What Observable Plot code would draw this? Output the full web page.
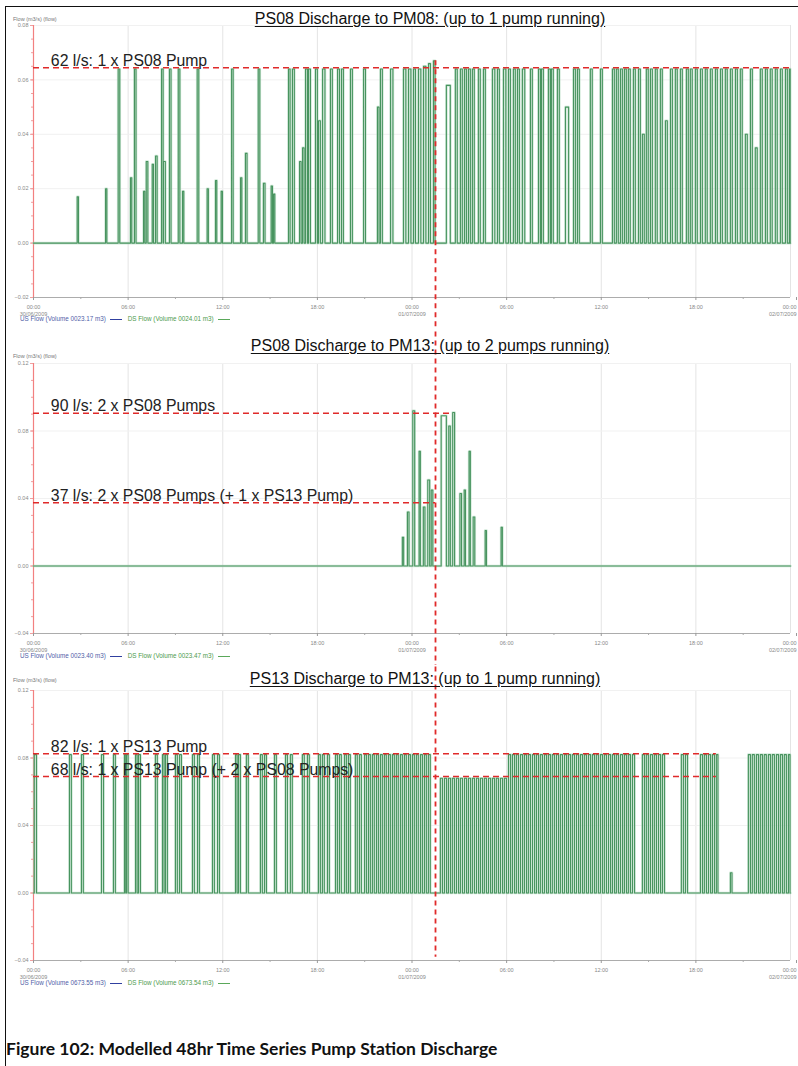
<!DOCTYPE html>
<html>
<head>
<meta charset="utf-8">
<script src="https://cdn.jsdelivr.net/npm/d3@7"></script>
<script src="https://cdn.jsdelivr.net/npm/@observablehq/plot@0.6"></script>
<style>
  body { margin: 0; background: #fff; }
  #root { position: relative; width: 798px; height: 1066px; background: #fff; overflow: hidden; font-family: "Liberation Sans", Arial, sans-serif; }
  .frame { position: absolute; left: 5px; top: 6px; width: 820px; height: 1100px; border-left: 1.5px solid #111; border-top: 1.5px solid #111; }
  .title { position: absolute; transform: translateX(-50%); white-space: nowrap; font-size: 16px; color: #111; text-decoration: underline; text-underline-offset: 2px; }
  .ylab { position: absolute; left: 13px; font-size: 5.5px; color: #777; white-space: nowrap; }
  .legend { position: absolute; left: 20px; font-size: 6.3px; white-space: nowrap; }
  .legend span.sw { display: inline-block; width: 12px; height: 0; border-top: 1px solid; vertical-align: middle; margin: 0 6px 0 4px; }
  .caption { position: absolute; left: 6px; top: 1038px; font-family: Lato, "Open Sans", sans-serif; font-weight: 700; font-size: 17.5px; color: #111; white-space: nowrap; }
  svg.panel { position: absolute; left: 0; }
</style>
</head>
<body>
<div id="root">
  <div class="frame"></div>
</div>
<script>
// ---------- data ----------
const xTickHours = [0, 6, 12, 18, 24, 30, 36, 42, 48];
const xTickLabels = ["00:00\n30/06/2009", "06:00", "12:00", "18:00", "00:00\n01/07/2009", "06:00", "12:00", "18:00", "00:00\n02/07/2009"];
const xMinorHours = [3, 9, 15, 21, 27, 33, 39, 45];

const panelTitles = [
  "PS08 Discharge to PM08: (up to 1 pump running)",
  "PS08 Discharge to PM13: (up to 2 pumps running)",
  "PS13 Discharge to PM13: (up to 1 pump running)"
];
const legendUS = ["US Flow (Volume 0023.17 m3)", "US Flow (Volume 0023.40 m3)", "US Flow (Volume 0673.55 m3)"];
const legendDS = ["DS Flow (Volume 0024.01 m3)", "DS Flow (Volume 0023.47 m3)", "DS Flow (Volume 0673.54 m3)"];
const yAxisLabel = "Flow (m3/s) (flow)";

const yTicks1 = [-0.02, 0, 0.02, 0.04, 0.06, 0.08];
const yTicks2 = [-0.04, 0, 0.04, 0.08, 0.12];
const yTicks3 = [-0.04, 0, 0.04, 0.08, 0.12];

// reference levels (value, end hour, label)
const refs1 = [{v: 0.0645, end: 48, label: "62 l/s: 1 x PS08 Pump"}];
const refs2 = [
  {v: 0.0905, end: 26.63, label: "90 l/s: 2 x PS08 Pumps"},
  {v: 0.0375, end: 25.49, label: "37 l/s: 2 x PS08 Pumps (+ 1 x PS13 Pump)"}
];
const refs3 = [
  {v: 0.0825, end: 43.3, label: "82 l/s: 1 x PS13 Pump"},
  {v: 0.069, end: 43.3, label: "68 l/s: 1 x PS13 Pump (+ 2 x PS08 Pumps)"}
];
const markerHour = 25.49;

// pump pulses: [start hour, duration hours, flow m3/s]
const ps08pm08 = [
  [2.77,0.08,0.017],[4.57,0.08,0.020],[5.37,0.1,0.064],[6.15,0.08,0.024],[6.40,0.1,0.064],[6.98,0.08,0.019],
  [7.15,0.1,0.030],[7.53,0.08,0.029],[7.74,0.1,0.032],[8.12,0.1,0.064],[8.24,0.12,0.030],[8.62,0.1,0.064],
  [9.18,0.1,0.064],[9.45,0.08,0.019],[10.38,0.1,0.064],[11.01,0.08,0.020],[11.54,0.08,0.023],[11.90,0.08,0.019],
  [12.56,0.1,0.064],[13.13,0.08,0.024],[13.44,0.1,0.033],[14.25,0.1,0.064],[14.58,0.1,0.022],[15.07,0.08,0.021],
  [15.22,0.08,0.018],[16.17,0.1,0.064],[16.42,0.12,0.064],[16.87,0.1,0.030],[17.06,0.1,0.035],[17.25,0.12,0.064],
  [17.44,0.12,0.064],[17.88,0.12,0.064],[18.07,0.12,0.045],[18.33,0.15,0.064],[18.83,0.12,0.064],[19.28,0.12,0.064],
  [19.53,0.12,0.064],[20.10,0.12,0.064],[20.93,0.12,0.064],[21.81,0.1,0.050],[22.00,0.12,0.064],[22.64,0.15,0.064],
  [23.46,0.15,0.064],[23.78,0.15,0.064],[24.10,0.12,0.064],[24.41,0.15,0.064],[24.73,0.15,0.065],[25.05,0.12,0.066],
  [25.36,0.1,0.067],
  [26.18,0.25,0.058],[26.75,0.12,0.064],[27.07,0.12,0.064],[27.33,0.12,0.064],[27.58,0.12,0.064],[27.83,0.12,0.064],
  [28.21,0.12,0.064],[28.53,0.12,0.064],[29.10,0.15,0.064],[29.42,0.12,0.064],[29.80,0.15,0.064],[30.12,0.12,0.064],
  [30.43,0.12,0.064],[30.69,0.12,0.064],[31.00,0.15,0.064],[31.51,0.12,0.064],[32.02,0.12,0.064],[32.21,0.12,0.064],
  [32.65,0.12,0.064],[32.84,0.12,0.064],[33.22,0.12,0.064],[33.73,0.2,0.050],[34.24,0.12,0.064],[34.49,0.12,0.064],
  [35.31,0.12,0.064],[35.95,0.12,0.064],[36.71,0.12,0.064],[36.96,0.12,0.064],[37.22,0.12,0.064],[37.47,0.12,0.064],
  [37.72,0.12,0.064],[38.04,0.12,0.064],[38.36,0.12,0.064],[38.61,0.12,0.040],[38.86,0.12,0.064],[39.12,0.12,0.064],
  [39.43,0.12,0.064],[39.75,0.12,0.064],[40.07,0.12,0.045],[40.39,0.12,0.064],[40.70,0.12,0.064],[41.02,0.12,0.064],
  [41.40,0.12,0.064],[41.65,0.12,0.064],[41.97,0.12,0.064],[42.29,0.12,0.064],[42.60,0.12,0.064],[42.92,0.12,0.064],
  [43.24,0.12,0.064],[43.56,0.12,0.064],[43.87,0.12,0.064],[44.19,0.12,0.064],[44.51,0.12,0.064],[44.82,0.12,0.064],
  [45.14,0.12,0.040],[45.46,0.12,0.064],[45.77,0.12,0.035],[46.09,0.12,0.064],[46.41,0.12,0.064],[46.72,0.12,0.064],
  [47.04,0.12,0.064],[47.36,0.12,0.064],[47.68,0.12,0.064],[47.93,0.05,0.064]
];

const ps08pm13 = [
  [23.39,0.08,0.017],[23.71,0.1,0.032],[24.05,0.12,0.092],[24.45,0.08,0.068],[24.72,0.1,0.035],[25.00,0.12,0.051],
  [25.22,0.1,0.045],[25.85,0.33,0.089],[26.33,0.1,0.083],[26.58,0.12,0.091],[27.04,0.1,0.043],[27.31,0.08,0.045],
  [27.62,0.08,0.068],[27.88,0.1,0.029],[28.64,0.08,0.021],[29.65,0.08,0.023]
];

const ps13pm13 = [
  [0.05,0.14,0.082],[2.28,0.12,0.082],[3.04,0.12,0.082],[4.31,0.13,0.082],[5.07,0.12,0.082],[5.77,0.08,0.082],
  [5.90,0.1,0.082],[6.47,0.1,0.082],[6.66,0.12,0.082],[7.73,0.12,0.082],[8.18,0.1,0.082],[8.37,0.12,0.082],
  [9.00,0.12,0.082],[9.26,0.12,0.082],[10.08,0.12,0.082],[10.40,0.12,0.082],[11.35,0.12,0.082],[11.67,0.12,0.082],
  [12.81,0.1,0.082],[13.00,0.12,0.082],[13.50,0.12,0.082],[14.39,0.12,0.082],[14.65,0.12,0.082],[15.28,0.12,0.082],
  [15.98,0.12,0.082],[16.29,0.12,0.082],[17.05,0.12,0.082],[17.37,0.12,0.082],[18.07,0.12,0.082],[18.32,0.12,0.082],
  [18.64,0.12,0.082],[19.15,0.12,0.082],[19.40,0.12,0.082],[19.72,0.12,0.082],[19.97,0.12,0.082],[20.41,0.12,0.082],
  [20.67,0.12,0.082],[20.99,0.12,0.082],[21.24,0.12,0.082],[21.49,0.12,0.082],[21.75,0.12,0.082],[22.00,0.12,0.082],
  [22.25,0.12,0.082],[22.51,0.12,0.082],[22.76,0.12,0.082],[23.01,0.12,0.082],[23.27,0.12,0.082],[23.52,0.12,0.082],
  [23.78,0.12,0.082],[24.03,0.12,0.082],[24.28,0.12,0.082],[24.54,0.12,0.082],[24.79,0.12,0.082],[25.04,0.12,0.082],
  [25.80,0.13,0.068],[26.06,0.13,0.068],[26.31,0.13,0.068],[26.56,0.13,0.068],[26.82,0.13,0.068],[27.07,0.13,0.068],
  [27.33,0.13,0.068],[27.58,0.13,0.068],[27.83,0.13,0.068],[28.09,0.13,0.068],[28.34,0.13,0.068],[28.59,0.13,0.068],
  [28.85,0.13,0.068],[29.10,0.13,0.068],[29.35,0.13,0.068],[29.61,0.13,0.068],[29.86,0.13,0.068],
  [30.12,0.13,0.082],[30.37,0.13,0.082],[30.62,0.13,0.082],[30.88,0.13,0.082],[31.13,0.13,0.082],[31.38,0.13,0.082],
  [31.64,0.13,0.082],[31.89,0.13,0.082],[32.14,0.13,0.082],[32.40,0.13,0.082],[32.65,0.13,0.082],[32.90,0.13,0.082],
  [33.16,0.13,0.082],[33.41,0.13,0.082],[33.67,0.13,0.082],[33.92,0.13,0.082],[34.17,0.13,0.082],[34.43,0.13,0.082],
  [34.68,0.13,0.082],[34.93,0.13,0.082],[35.19,0.13,0.082],[35.44,0.13,0.082],[35.69,0.13,0.082],[35.95,0.13,0.082],
  [36.20,0.13,0.082],[36.46,0.13,0.082],[36.71,0.13,0.082],[36.96,0.13,0.082],[37.22,0.13,0.082],[37.47,0.13,0.082],
  [37.72,0.13,0.082],[37.98,0.13,0.082],[38.61,0.13,0.082],[38.86,0.13,0.082],[39.12,0.13,0.082],[39.37,0.13,0.082],
  [39.63,0.13,0.082],[39.88,0.13,0.082],[41.08,0.13,0.082],[41.34,0.13,0.082],[42.29,0.13,0.082],[42.54,0.13,0.082],
  [42.80,0.13,0.082],[43.05,0.13,0.082],[43.30,0.1,0.082],[44.19,0.1,0.012],[45.33,0.13,0.082],[45.58,0.13,0.082],
  [45.84,0.13,0.082],[46.09,0.13,0.082],[46.34,0.13,0.082],[46.60,0.13,0.082],[46.85,0.13,0.082],[47.11,0.13,0.082],
  [47.36,0.13,0.082],[47.61,0.13,0.082],[47.87,0.1,0.082]
];

// ---------- helpers ----------
const labelByHour = new Map(xTickHours.map((h, i) => [h, xTickLabels[i]]));
function toLine(pulses) {
  const pts = [{t: 0, v: 0}];
  for (const [t, w, p] of pulses) {
    pts.push({t, v: 0}, {t, v: p}, {t: t + w, v: p}, {t: t + w, v: 0});
  }
  pts.push({t: 48, v: 0});
  return pts;
}
function minorTicks(domain, step) {
  const out = [];
  for (let v = domain[0]; v <= domain[1] + 1e-9; v += step) out.push(+v.toFixed(4));
  return out;
}

const FONT = "Liberation Sans, Arial, sans-serif";
const RED = "#e02a2a";

function panel(cfg) {
  const {pulses, yDomain, yTicks, yMinorStep, refs, markerY, top, height, marginTop, marginBottom} = cfg;
  const line = toLine(pulses);
  const svg = Plot.plot({
    width: 798, height, marginLeft: 33, marginRight: 8, marginTop, marginBottom,
    x: {domain: [0, 48], axis: null},
    y: {domain: yDomain, axis: null},
    style: {background: "transparent", fontFamily: FONT},
    marks: [
      Plot.gridX(xTickHours, {stroke: "#e4e4e4", strokeOpacity: 1}),
      Plot.gridY(yTicks, {stroke: "#f1f1f1", strokeOpacity: 1}),
      Plot.ruleY([yDomain[0]], {stroke: "#9a9a9a", strokeWidth: 0.8}),
      Plot.axisX(xMinorHours, {tickSize: 2, text: null, label: null, stroke: "#aaa"}),
      Plot.axisX(xTickHours.slice(0, -1), {tickSize: 3, tickPadding: 3, fontSize: 5.5, lineHeight: 1.3, label: null,
        tickFormat: d => labelByHour.get(d), fill: "#888", stroke: "#999"}),
      Plot.axisX(xTickHours.slice(-1), {tickSize: 3, tickPadding: 3, fontSize: 5.5, lineHeight: 1.3, label: null,
        textAnchor: "end", dx: 6, tickFormat: d => labelByHour.get(d), fill: "#888", stroke: "#999"}),
      Plot.axisY(minorTicks(yDomain, yMinorStep), {tickSize: 2, text: null, label: null, stroke: "#f0a0a0"}),
      Plot.axisY(yTicks, {tickSize: 3, tickPadding: 2, fontSize: 5.5, tickFormat: d3.format(".2f"), label: null,
        fill: "#888", stroke: "#f0a0a0"}),
      Plot.ruleX([0], {stroke: "#f28080", strokeWidth: 1.2}),
      Plot.line(line, {x: "t", y: "v", stroke: "#a9d6b8", strokeWidth: 2.6, strokeOpacity: 0.55}),
      Plot.line(line, {x: "t", y: "v", stroke: "#48945f", strokeWidth: 1.1}),
      Plot.ruleY(refs, {y: "v", x1: 0, x2: "end", stroke: RED, strokeWidth: 1.5, strokeDasharray: "6,4"}),
      Plot.text(refs, {x: 1.1, y: "v", text: "label", textAnchor: "start", lineAnchor: "bottom", dy: -2,
        fontSize: 15.8, fill: "#222", fontFamily: FONT}),
      Plot.ruleX([markerHour], {y1: markerY[0], y2: markerY[1], stroke: RED, strokeWidth: 1.8, strokeDasharray: "5,4"})
    ]
  });
  svg.classList.add("panel");
  svg.style.top = top + "px";
  return svg;
}

const root = document.getElementById("root");
const cfgs = [
  {pulses: ps08pm08, yDomain: [-0.02, 0.08], yTicks: yTicks1, yMinorStep: 0.005, refs: refs1,
   markerY: [0.067, -0.045], top: 0, height: 330, marginTop: 25, marginBottom: 33},
  {pulses: ps08pm13, yDomain: [-0.04, 0.12], yTicks: yTicks2, yMinorStep: 0.01, refs: refs2,
   markerY: [0.16, -0.07], top: 330, height: 335, marginTop: 33, marginBottom: 32},
  {pulses: ps13pm13, yDomain: [-0.04, 0.12], yTicks: yTicks3, yMinorStep: 0.01, refs: refs3,
   markerY: [0.15, -0.038], top: 665, height: 335, marginTop: 25, marginBottom: 40}
];
cfgs.forEach(c => root.appendChild(panel(c)));

// titles, axis labels, legends, caption
const titleY = [10, 337, 670];
const titleX = [430, 430, 425];
const ylabY = [16, 353, 677];
const legendY = [315, 652, 979];
panelTitles.forEach((t, i) => {
  const d = document.createElement("div");
  d.className = "title"; d.textContent = t;
  d.style.left = titleX[i] + "px"; d.style.top = titleY[i] + "px";
  root.appendChild(d);
  const y = document.createElement("div");
  y.className = "ylab"; y.textContent = yAxisLabel; y.style.top = ylabY[i] + "px";
  root.appendChild(y);
  const l = document.createElement("div");
  l.className = "legend"; l.style.top = legendY[i] + "px";
  l.innerHTML = `<span style="color:#5060a8">${legendUS[i]}</span><span class="sw" style="border-color:#3040a0"></span>` +
                `<span style="color:#4d9a4d">${legendDS[i]}</span><span class="sw" style="border-color:#5aa85a"></span>`;
  root.appendChild(l);
});
const cap = document.createElement("div");
cap.className = "caption";
cap.textContent = "Figure 102: Modelled 48hr Time Series Pump Station Discharge";
root.appendChild(cap);
</script>
</body>
</html>
